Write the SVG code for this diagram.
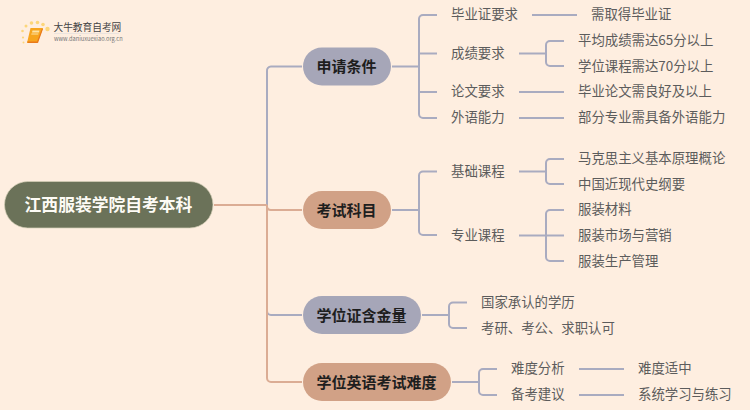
<svg xmlns="http://www.w3.org/2000/svg" width="750" height="410" viewBox="0 0 750 410">
<style>
text{font-family:"Noto Sans CJK SC","Noto Sans",sans-serif;dominant-baseline:central}
.c{fill:none;stroke-width:2;stroke-linecap:butt}
.b{stroke:#a9abc0}
.s{stroke:#dbac94}
.pill{stroke-width:1}
.t{font-size:13.4px;fill:#5c5c5c}
.m{font-size:15px;font-weight:700;fill:#1e1e1e}
.dot{fill:#fcd67a}
</style>
<rect width="750" height="410" fill="#feeee0"/>
<g id="connectors">
<path class="c b" d="M267 205V71a4 4 0 0 1 4-4.500H302"/>
<path class="c b" d="M267 205V311a4 4 0 0 0 4 4H302"/>
<path class="c s" d="M214 205H267"/>
<path class="c s" d="M267 205a4 4 0 0 0 4 5H302"/>
<path class="c s" d="M267 205V378a4 4 0 0 0 4 4H302"/>
<path class="c b" d="M392 66.500H419"/>
<path class="c b" d="M437 15H423a4 4 0 0 0-4 4V114a4 4 0 0 0 4 4H437"/>
<path class="c b" d="M419 53.500H437M419 92H437"/>
<path class="c b" d="M532 15H577M519 53.500H546M519 92H564M519 118H564"/>
<path class="c b" d="M564 41H550a4 4 0 0 0-4 4V62a4 4 0 0 0 4 4H564"/>
<path class="c b" d="M392 210H419"/>
<path class="c b" d="M437 171.500H423a4 4 0 0 0-4 4V231a4 4 0 0 0 4 4H437"/>
<path class="c b" d="M519 171.500H546M519 235.500H564"/>
<path class="c b" d="M564 159H550a4 4 0 0 0-4 4V180a4 4 0 0 0 4 4H564"/>
<path class="c b" d="M564 210H550a4 4 0 0 0-4 4V257a4 4 0 0 0 4 4H564"/>
<path class="c b" d="M422 315H449"/>
<path class="c b" d="M467 302.500H453a4 4 0 0 0-4 4V324a4 4 0 0 0 4 4H467"/>
<path class="c b" d="M452 382H479"/>
<path class="c b" d="M497 369H483a4 4 0 0 0-4 4V391a4 4 0 0 0 4 4H497"/>
<path class="c b" d="M579 369H624M579 395H624"/>
</g>
<g id="logo">
<circle class="dot" cx="47.500" cy="29" r="2.200"/>
<circle class="dot" cx="43" cy="24.500" r="1.800"/>
<circle class="dot" cx="37.500" cy="22.500" r="1.800"/>
<circle class="dot" cx="31.500" cy="23" r="1.800"/>
<circle class="dot" cx="26" cy="26" r="1.500"/>
<circle class="dot" cx="22.500" cy="31" r="1.300"/>
<circle class="dot" cx="23" cy="37.500" r="1.100"/>
<circle class="dot" cx="23.500" cy="42.500" r="1"/>
<path d="M30.500 28H43L38 41.500a1.500 1.500 0 0 1-1.500 1.500H27Z" fill="#f7a51e"/>
<path d="M27 41.500H37L42 28.500L43 29L38.500 41.500a1.500 1.500 0 0 1-1.500 1.500H28Z" fill="#e9791a"/>
<path d="M32.500 30.500H39.500L39 32.500H32ZM31.500 33.500H38.500L38.200 34.500H31.200Z" fill="#fde3a6"/>
<text x="53.500" y="27" style="font-size:9.700px;fill:#444">大牛教育自考网</text>
<path d="M54 33.500H119" stroke="#ddd" stroke-width="0.600"/>
<text x="54" y="38.500" style="font-size:5.700px;fill:#777">www.daniuxuexiao.org.cn</text>
</g>
<g id="root">
<rect class="pill" x="4.500" y="181.500" width="208.500" height="46.500" rx="23.250" fill="#6b7259" stroke="#d6d0b8" stroke-opacity="0.700"/>
<text x="108.500" y="204" text-anchor="middle" style="font-size:16.800px;font-weight:700;fill:#fdfbf5">江西服装学院自考本科</text>
</g>
<g id="n1">
<rect x="303" y="47.500" width="88" height="38" rx="19" fill="#a6a6b8"/>
<text class="m" x="316.500" y="65.500">申请条件</text>
</g>
<g id="n2">
<rect x="303" y="191" width="88" height="38" rx="19" fill="#d1a186"/>
<text class="m" x="316.500" y="209">考试科目</text>
</g>
<g id="n3">
<rect x="303" y="296" width="118" height="38" rx="19" fill="#a6a6b8"/>
<text class="m" x="316.500" y="314">学位证含金量</text>
</g>
<g id="n4">
<rect x="303" y="363" width="148" height="38" rx="19" fill="#d1a186"/>
<text class="m" x="316.500" y="381">学位英语考试难度</text>
</g>
<g id="leaves">
<text class="t" x="451" y="13">毕业证要求</text>
<text class="t" x="591" y="13">需取得毕业证</text>
<text class="t" x="451" y="51.500">成绩要求</text>
<text class="t" x="578" y="39">平均成绩需达65分以上</text>
<text class="t" x="578" y="64.500">学位课程需达70分以上</text>
<text class="t" x="451" y="90">论文要求</text>
<text class="t" x="578" y="90">毕业论文需良好及以上</text>
<text class="t" x="451" y="116">外语能力</text>
<text class="t" x="578" y="116">部分专业需具备外语能力</text>
<text class="t" x="451" y="169.500">基础课程</text>
<text class="t" x="578" y="157">马克思主义基本原理概论</text>
<text class="t" x="578" y="182.500">中国近现代史纲要</text>
<text class="t" x="451" y="233.500">专业课程</text>
<text class="t" x="578" y="208">服装材料</text>
<text class="t" x="578" y="233.500">服装市场与营销</text>
<text class="t" x="578" y="259.500">服装生产管理</text>
<text class="t" x="481" y="300.500">国家承认的学历</text>
<text class="t" x="481" y="326.500">考研、考公、求职认可</text>
<text class="t" x="511" y="367">难度分析</text>
<text class="t" x="638" y="367">难度适中</text>
<text class="t" x="511" y="393">备考建议</text>
<text class="t" x="638" y="393">系统学习与练习</text>
</g>
</svg>
